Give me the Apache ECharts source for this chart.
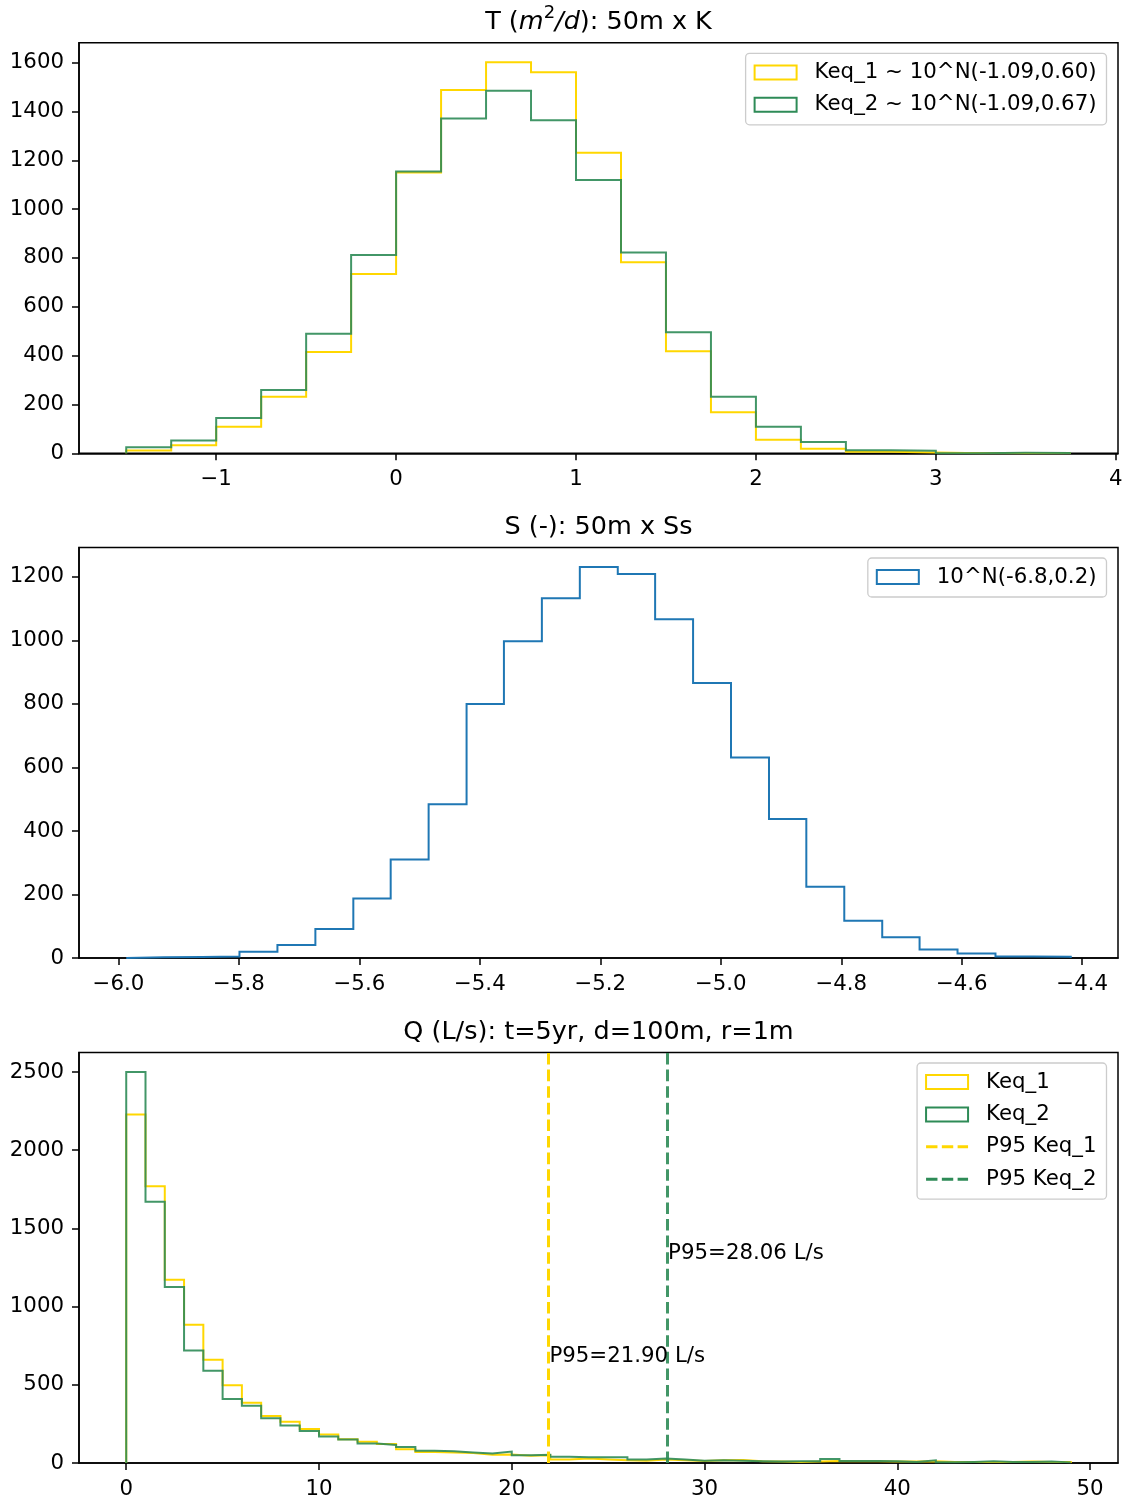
<!DOCTYPE html>
<html>
<head>
<meta charset="utf-8">
<script src="https://cdn.jsdelivr.net/npm/echarts@6/dist/echarts.min.js"></script>
<style>
  html, body { margin: 0; padding: 0; background: #ffffff; }
  #chart { width: 1128px; height: 1501px; }
</style>
</head>
<body>
<div id="chart"></div>
<script>
// ---- T: log10 transmissivity, two equivalent-K assumptions ----
const tBinEdges = [-1.5, -1.25, -1.0, -0.75, -0.5, -0.25, 0.0, 0.25, 0.5, 0.75, 1.0,
                   1.25, 1.5, 1.75, 2.0, 2.25, 2.5, 2.75, 3.0, 3.25, 3.5, 3.75];
const tCountsKeq1 = [11, 33, 109, 232, 415, 734, 1150, 1488, 1601, 1560, 1231,
                     782, 418, 168, 55, 19, 6, 3, 0, 0, 0];
const tCountsKeq2 = [25, 52, 145, 259, 490, 812, 1154, 1371, 1485, 1364, 1119,
                     822, 496, 232, 109, 46, 12, 10, 0, 2, 1];
const tTicksX = [-1, 0, 1, 2, 3, 4];
const tTicksY = [0, 200, 400, 600, 800, 1000, 1200, 1400, 1600];
const tNames = ['Keq_1 ~ 10^N(-1.09,0.60)', 'Keq_2 ~ 10^N(-1.09,0.67)'];

// ---- S: log10 storativity ----
const sBinEdges = [-5.987, -5.924, -5.861, -5.799, -5.736, -5.673, -5.610, -5.548, -5.485,
                   -5.422, -5.360, -5.297, -5.234, -5.171, -5.109, -5.046, -4.983, -4.920,
                   -4.858, -4.795, -4.732, -4.670, -4.607, -4.544, -4.481, -4.419];
const sCounts = [2, 3, 5, 20, 41, 91, 187, 310, 484, 800, 997, 1133, 1231,
                 1209, 1067, 866, 631, 438, 224, 117, 65, 27, 14, 5, 4];
const sTicksX = [-6.0, -5.8, -5.6, -5.4, -5.2, -5.0, -4.8, -4.6, -4.4];
const sTicksY = [0, 200, 400, 600, 800, 1000, 1200];
const sName = '10^N(-6.8,0.2)';

// ---- Q: pumping rate (L/s) ----
const qBinEdges = [0, 1, 2, 3, 4, 5, 6, 7, 8, 9, 10, 11, 12, 13, 14, 15, 16, 17, 18, 19,
                   20, 21, 22, 23, 24, 25, 26, 27, 28, 29, 30, 31, 32, 33, 34, 35, 36, 37,
                   38, 39, 40, 41, 42, 43, 44, 45, 46, 47, 48, 49];
const qCountsKeq1 = [2228, 1769, 1172, 884, 661, 497, 385, 300, 263, 218,
                     183, 152, 136, 121, 88, 70, 67, 64, 53, 55,
                     47, 49, 23, 28, 23, 17, 15, 23, 17, 13,
                     17, 19, 11, 9, 7, 9, 13, 11, 11, 9,
                     9, 11, 7, 7, 7, 7, 9, 7, 6];
const qCountsKeq2 = [2500, 1671, 1125, 720, 590, 409, 366, 286, 240, 205,
                     170, 150, 124, 115, 102, 79, 75, 67, 61, 73,
                     50, 53, 40, 36, 36, 36, 23, 28, 23, 15,
                     17, 15, 11, 9, 11, 11, 26, 13, 13, 11,
                     7, 17, 4, 7, 11, 7, 7, 9, 4];
const qP95 = [21.90, 28.06];
const qP95LabelY = [655, 1310];
const qTicksX = [0, 10, 20, 30, 40, 50];
const qTicksY = [0, 500, 1000, 1500, 2000, 2500];
const qNames = ['Keq_1', 'Keq_2'];
const qP95Names = ['P95 Keq_1', 'P95 Keq_2'];

const titles = [
  'T ({i|m}{sup|2}{i|/d}): 50m x K',
  'S (-): 50m x Ss',
  'Q (L/s): t=5yr, d=100m, r=1m'
];

// ---- styling ----
const GOLD = '#FFD700';
const GREEN = '#2E8B57';
const BLUE = '#1F77B4';
const FONT = 'DejaVu Sans';
const TICK_FS = 21.3;
const GRID_LEFT = 79;
const GRID_WIDTH = 1039;
const GRID_HEIGHT = 410.5;
const GRID_TOPS = [42.8, 547.5, 1052.5];

// histogram outline (matplotlib "step" style) from bin edges and counts
function stepOutline(edges, counts) {
  const pts = [[edges[0], 0]];
  counts.forEach((c, i) => pts.push([edges[i], c]));
  const n = counts.length;
  pts.push([edges[n], counts[n - 1]]);
  pts.push([edges[n], 0]);
  return pts;
}

// 5% data margins on both axes
function xRange(edges) {
  const lo = edges[0], hi = edges[edges.length - 1], pad = 0.05 * (hi - lo);
  return [lo - pad, hi + pad];
}
function yTop(...countLists) {
  return 1.05 * Math.max(...countLists.map(l => Math.max(...l)));
}

const minus = s => s.replace('-', '\u2212');

function xAxisFor(gi, range, ticks, fmt) {
  return {
    type: 'value', gridIndex: gi, min: range[0], max: range[1],
    axisLine: { show: true, onZero: false, lineStyle: { color: '#000', width: 1.5 } },
    axisTick: { show: true, length: 7, customValues: ticks, lineStyle: { color: '#000', width: 1.5 } },
    axisLabel: { show: true, customValues: ticks, formatter: fmt, color: '#000',
                 fontSize: TICK_FS, fontFamily: FONT, margin: 15.5 },
    splitLine: { show: false }
  };
}
function yAxisFor(gi, top, ticks) {
  return {
    type: 'value', gridIndex: gi, min: 0, max: top,
    axisLine: { show: true, onZero: false, lineStyle: { color: '#000', width: 1.5 } },
    axisTick: { show: true, length: 7, customValues: ticks, lineStyle: { color: '#000', width: 1.5 } },
    axisLabel: { show: true, customValues: ticks, formatter: v => String(v), color: '#000',
                 fontSize: TICK_FS, fontFamily: FONT, margin: 15 },
    splitLine: { show: false }
  };
}

function histSeries(name, gi, edges, counts, color, opacity) {
  return {
    name, type: 'line', xAxisIndex: gi, yAxisIndex: gi,
    data: stepOutline(edges, counts), step: 'end', symbol: 'none',
    lineStyle: { color, width: 2, opacity, join: 'miter' },
    itemStyle: { color }, silent: true, animation: false
  };
}

function rectIcon(name, color) {
  return { name, icon: 'rect', itemStyle: { color: 'rgba(0,0,0,0)', borderColor: color, borderWidth: 2 } };
}
const DASH_ICON = 'path://M0,0h12v3h-12z M16.6,0h12v3h-12z M33.2,0h11v3h-11z';
function dashIcon(name, color) {
  return { name, icon: DASH_ICON, itemStyle: { color, borderWidth: 0 } };
}

function legendFor(top, items) {
  return {
    orient: 'vertical', right: 21.5, top, align: 'left',
    data: items, itemWidth: 42, itemHeight: 14, itemGap: 8.4,
    padding: [7, 10, 8, 8],
    backgroundColor: 'rgba(255,255,255,0.8)', borderColor: '#cccccc', borderWidth: 1.3, borderRadius: 4,
    symbolKeepAspect: true, selectedMode: false,
    textStyle: { fontSize: TICK_FS, fontFamily: FONT, color: '#000', lineHeight: 24, padding: [0, 0, 0, 13] }
  };
}

const tX = xRange(tBinEdges), sX = xRange(sBinEdges), qX = xRange(qBinEdges);
const tY = yTop(tCountsKeq1, tCountsKeq2), sY = yTop(sCounts), qY = yTop(qCountsKeq1, qCountsKeq2);

const fmtInt = v => minus(String(v));
const fmtOne = v => minus(v.toFixed(1));

const titleGraphics = GRID_TOPS.map((top, i) => ({
  type: 'text', x: GRID_LEFT + GRID_WIDTH / 2, y: top - 20.5, silent: true,
  style: {
    text: titles[i], fill: '#000', fontSize: 25.5, fontFamily: FONT, lineHeight: 36,
    align: 'center', verticalAlign: 'middle',
    rich: {
      i: { fontSize: 25.5, fontFamily: FONT, fontStyle: 'italic', lineHeight: 36, fill: '#000' },
      sup: { fontSize: 18, fontFamily: FONT, lineHeight: 18, verticalAlign: 'top', fill: '#000' }
    }
  }
}));

const p95Series = qP95.map((p, i) => ({
  name: qP95Names[i], type: 'line', xAxisIndex: 2, yAxisIndex: 2, data: [],
  itemStyle: { color: i === 0 ? GOLD : GREEN },
  lineStyle: { color: i === 0 ? GOLD : GREEN },
  animation: false,
  markLine: {
    silent: true, symbol: ['none', 'none'], animation: false,
    label: { show: false },
    lineStyle: { color: i === 0 ? GOLD : GREEN, width: 3, type: [11.6, 5], opacity: i === 0 ? 1 : 0.9 },
    data: [{ xAxis: p }]
  }
}));

const p95Labels = {
  name: 'p95-text', type: 'scatter', xAxisIndex: 2, yAxisIndex: 2,
  data: qP95.map((p, i) => [p, qP95LabelY[i]]),
  symbolSize: 0, itemStyle: { color: 'rgba(0,0,0,0)' }, silent: true, animation: false, z: 5,
  label: {
    show: true, position: 'right', distance: 1, offset: [0, -4.5], opacity: 1,
    formatter: d => 'P95=' + d.value[0].toFixed(2) + ' L/s',
    color: '#000000', textBorderWidth: 0, fontSize: TICK_FS, fontFamily: FONT
  }
};

const option = {
  animation: false,
  backgroundColor: '#ffffff',
  grid: GRID_TOPS.map(top => ({
    left: GRID_LEFT, top, width: GRID_WIDTH, height: GRID_HEIGHT,
    show: true, borderColor: '#000', borderWidth: 1.5, backgroundColor: 'rgba(0,0,0,0)',
    containLabel: false, outerBoundsMode: 'none'
  })),
  xAxis: [
    xAxisFor(0, tX, tTicksX, fmtInt),
    xAxisFor(1, sX, sTicksX, fmtOne),
    xAxisFor(2, qX, qTicksX, fmtInt)
  ],
  yAxis: [
    yAxisFor(0, tY, tTicksY),
    yAxisFor(1, sY, sTicksY),
    yAxisFor(2, qY, qTicksY)
  ],
  legend: [
    legendFor(53.4, [rectIcon(tNames[0], GOLD), rectIcon(tNames[1], GREEN)]),
    legendFor(558, [rectIcon(sName, BLUE)]),
    legendFor(1063, [rectIcon(qNames[0], GOLD), rectIcon(qNames[1], GREEN),
                     dashIcon(qP95Names[0], GOLD), dashIcon(qP95Names[1], GREEN)])
  ],
  graphic: titleGraphics,
  series: [
    histSeries(tNames[0], 0, tBinEdges, tCountsKeq1, GOLD, 1),
    histSeries(tNames[1], 0, tBinEdges, tCountsKeq2, GREEN, 0.9),
    histSeries(sName, 1, sBinEdges, sCounts, BLUE, 1),
    histSeries(qNames[0], 2, qBinEdges, qCountsKeq1, GOLD, 1),
    histSeries(qNames[1], 2, qBinEdges, qCountsKeq2, GREEN, 0.9),
    ...p95Series,
    p95Labels
  ]
};

const chart = echarts.init(document.getElementById('chart'), null, { renderer: 'canvas' });
chart.setOption(option);
</script>
</body>
</html>
